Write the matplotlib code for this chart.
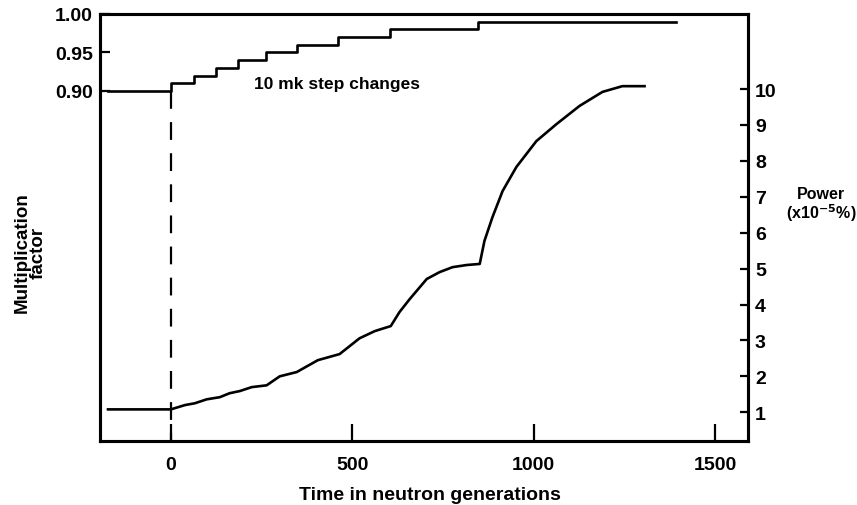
import matplotlib; matplotlib.use("Agg")
import matplotlib.pyplot as plt

plt.rcParams["font.family"] = ["Liberation Sans", "DejaVu Sans"]
plt.rcParams["font.weight"] = "bold"

# multiplication factor: 10 mk step changes
step_t = [-173, 0, 65, 125, 185, 262, 348, 461, 605, 846, 1393]
step_k = [0.90, 0.91, 0.92, 0.93, 0.94, 0.95, 0.96, 0.97, 0.98, 0.99, 0.99]

# power (x10^-5 %)
pow_t = [-173, 0, 39, 66, 99, 135, 162, 190, 223, 264, 300, 347, 405, 465,
         520, 562, 606, 630, 658, 705, 740, 776, 815, 851, 864, 886, 914,
         952, 1007, 1062, 1126, 1189, 1244, 1305]
pow_p = [1.08, 1.08, 1.20, 1.25, 1.36, 1.42, 1.53, 1.59, 1.70, 1.75, 2.00,
         2.12, 2.45, 2.62, 3.06, 3.26, 3.40, 3.79, 4.15, 4.71, 4.90, 5.04,
         5.10, 5.13, 5.77, 6.43, 7.16, 7.83, 8.55, 9.02, 9.53, 9.92, 10.08,
         10.08]

x_ticks = [0, 500, 1000, 1500]
k_ticks = [0.90, 0.95, 1.00]
p_ticks = list(range(1, 11))

fig = plt.figure(figsize=(8.57, 5.06), dpi=100)
ax = fig.add_axes([0.1167, 0.1265, 0.7561, 0.8439])
axk = ax.twinx()

# power on the right-hand scale
ax.plot(pow_t, pow_p, color="black", lw=1.9, solid_joinstyle="round")
ax.set_xlim(-195, 1590)
ax.set_ylim(0.2, 12.09)
ax.yaxis.tick_right()
ax.set_yticks(p_ticks)
ax.set_xticks(x_ticks)
ax.tick_params(axis="x", direction="in", length=12, width=1.6, labelsize=14, pad=11)
ax.tick_params(axis="y", direction="in", length=6, width=1.6, labelsize=14, pad=5)

# multiplication factor on the left-hand scale
axk.yaxis.tick_left()
axk.step(step_t, step_k, where="post", color="black", lw=1.9)
axk.plot([0, 0], [0.90, 0.4455], color="black", lw=1.6, dashes=(8, 6))
axk.set_ylim(0.4455, 1.00)
axk.set_yticks(k_ticks)
axk.set_yticklabels(["0.90", "0.95", "1.00"])
axk.tick_params(axis="y", direction="in", length=7, width=1.6, labelsize=14, pad=5)

for a in (ax, axk):
    for s in a.spines.values():
        s.set_linewidth(2.2)

axk.text(0.238, 0.838, "10 mk step changes", transform=ax.transAxes, fontsize=12.5,
         fontweight="bold", va="center", ha="left")
fig.text(0.502, 0.02, "Time in neutron generations", ha="center", va="center",
         fontsize=14, fontweight="bold")
fig.text(0.035, 0.5, "Multiplication\nfactor", ha="center", va="center",
         rotation=90, fontsize=13.5, fontweight="bold", linespacing=0.95)
fig.text(0.958, 0.594, "Power\n(x10$^{-5}$%)", ha="center", va="center",
         fontsize=11.5, fontweight="bold", linespacing=1.0)

fig.savefig("out.png", dpi=100)
